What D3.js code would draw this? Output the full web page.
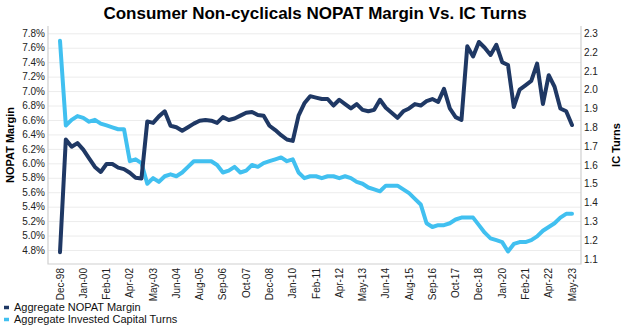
<!DOCTYPE html>
<html>
<head>
<meta charset="utf-8">
<script src="https://d3js.org/d3.v7.min.js"></script>
<style>
  body { margin: 0; background: #fff; }
  svg text { font-family: Arial, "Liberation Sans", sans-serif; }
</style>
</head>
<body>
<div id="vis-container"></div>
<script>
// Consumer Non-cyclicals: NOPAT margin (left axis) vs invested capital turns (right axis)

// every 4th point carries a date label
const tickLabels = ["Dec-98", "Jan-00", "Feb-01", "Apr-02", "May-03", "Jun-04", "Aug-05",
  "Sep-06", "Oct-07", "Dec-08", "Jan-10", "Feb-11", "Apr-12", "May-13", "Jun-14",
  "Aug-15", "Sep-16", "Oct-17", "Dec-18", "Jan-20", "Feb-21", "Apr-22", "May-23"];
const labelStep = 4;

// Aggregate NOPAT margin, %
const nopatMargin = [
  4.77, 6.33, 6.23, 6.28, 6.19, 6.07, 5.95, 5.88, 5.99, 5.99,
  5.94, 5.92, 5.87, 5.80, 5.79, 6.58, 6.56, 6.65, 6.72, 6.52,
  6.50, 6.45, 6.50, 6.55, 6.59, 6.60, 6.59, 6.56, 6.64, 6.60,
  6.62, 6.66, 6.70, 6.71, 6.67, 6.66, 6.52, 6.46, 6.39, 6.33,
  6.31, 6.66, 6.83, 6.93, 6.91, 6.89, 6.89, 6.80, 6.88, 6.82,
  6.76, 6.82, 6.74, 6.72, 6.74, 6.88, 6.77, 6.70, 6.63, 6.72,
  6.76, 6.82, 6.80, 6.86, 6.89, 6.85, 7.03, 6.76, 6.64, 6.60,
  7.62, 7.48, 7.68, 7.60, 7.50, 7.64, 7.40, 7.36, 6.78, 7.02,
  7.08, 7.14, 7.38, 6.82, 7.22, 7.06, 6.76, 6.72, 6.53
];

// Aggregate invested capital turns
const icTurns = [
  2.26, 1.81, 1.84, 1.86, 1.85, 1.83, 1.84, 1.82, 1.81, 1.80,
  1.79, 1.79, 1.62, 1.63, 1.61, 1.50, 1.53, 1.51, 1.54, 1.55,
  1.54, 1.56, 1.59, 1.62, 1.62, 1.62, 1.62, 1.60, 1.56, 1.57,
  1.59, 1.56, 1.57, 1.60, 1.59, 1.61, 1.62, 1.63, 1.64, 1.62,
  1.63, 1.56, 1.53, 1.54, 1.54, 1.53, 1.54, 1.54, 1.53, 1.54,
  1.53, 1.51, 1.50, 1.48, 1.47, 1.46, 1.49, 1.49, 1.49, 1.47,
  1.45, 1.42, 1.39, 1.29, 1.27, 1.28, 1.28, 1.29, 1.31, 1.32,
  1.32, 1.32, 1.28, 1.24, 1.21, 1.20, 1.19, 1.14, 1.18, 1.19,
  1.19, 1.20, 1.22, 1.25, 1.27, 1.29, 1.32, 1.34, 1.34
];

const leftTicks = d3.range(15, -1, -1).map(i => +(4.8 + i * 0.2).toFixed(1));
const rightTicks = d3.range(12, -1, -1).map(i => +(1.1 + i * 0.1).toFixed(1));

const seriesNames = ["Aggregate NOPAT Margin", "Aggregate Invested Capital Turns"];
const darkBlue = "#1f3864";
const lightBlue = "#41c0f0";

const width = 630, height = 333;
const plot = { left: 48, right: 581, top: 26, bottom: 264 };

const svg = d3.select("#vis-container")
  .append("svg")
  .attr("width", width)
  .attr("height", height);

const x = d3.scaleLinear().domain([0, nopatMargin.length - 1]).range([60, 572]);
const yLeft = d3.scaleLinear().domain([4.8, 7.8]).range([250, 33.3]);
const yRight = d3.scaleLinear().domain([1.1, 2.3]).range([259, 33.3]);

// title
svg.append("text")
  .attr("x", 315)
  .attr("y", 19)
  .attr("text-anchor", "middle")
  .attr("font-size", 17)
  .attr("font-weight", "bold")
  .attr("fill", "#000")
  .text("Consumer Non-cyclicals NOPAT Margin Vs. IC Turns");

// gridlines from the left axis
svg.append("g")
  .attr("transform", `translate(${plot.left},0)`)
  .call(d3.axisLeft(yLeft).tickValues(leftTicks).tickSize(-(plot.right - plot.left)).tickFormat(""))
  .call(g => g.select(".domain").remove())
  .call(g => g.selectAll(".tick line").attr("stroke", "#ececec").attr("stroke-width", 1));

// plot frame
svg.append("path")
  .attr("d", `M${plot.left},${plot.top}V${plot.bottom}H${plot.right}V${plot.top}`)
  .attr("fill", "none")
  .attr("stroke", "#d0d0d0")
  .attr("stroke-width", 1.2);

// left axis
svg.append("g")
  .attr("transform", `translate(${plot.left},0)`)
  .call(d3.axisLeft(yLeft).tickValues(leftTicks).tickSize(0).tickPadding(3)
    .tickFormat(d => d.toFixed(1) + "%"))
  .call(g => g.select(".domain").remove())
  .call(g => g.selectAll("text").attr("font-size", 10).attr("fill", "#222")
    .attr("font-family", "Arial, 'Liberation Sans', sans-serif"));

// right axis
svg.append("g")
  .attr("transform", `translate(${plot.right},0)`)
  .call(d3.axisRight(yRight).tickValues(rightTicks).tickSize(0).tickPadding(3)
    .tickFormat(d => d.toFixed(1)))
  .call(g => g.select(".domain").remove())
  .call(g => g.selectAll("text").attr("font-size", 10).attr("fill", "#222")
    .attr("font-family", "Arial, 'Liberation Sans', sans-serif"));

// axis titles
svg.append("text")
  .attr("transform", `translate(14,${(plot.top + plot.bottom) / 2}) rotate(-90)`)
  .attr("text-anchor", "middle")
  .attr("font-size", 11)
  .attr("font-weight", "bold")
  .text("NOPAT Margin");

svg.append("text")
  .attr("transform", `translate(620,${(plot.top + plot.bottom) / 2}) rotate(-90)`)
  .attr("text-anchor", "middle")
  .attr("font-size", 11)
  .attr("font-weight", "bold")
  .text("IC Turns");

// rotated date labels under the plot
svg.append("g")
  .selectAll("text")
  .data(tickLabels)
  .enter()
  .append("text")
  .attr("transform", (d, i) => `translate(${x(i * labelStep) + 3.5},${plot.bottom + 4}) rotate(-90)`)
  .attr("text-anchor", "end")
  .attr("font-size", 10)
  .attr("fill", "#222")
  .text(d => d);

const lineLeft = d3.line().x((d, i) => x(i)).y(d => yLeft(d));
const lineRight = d3.line().x((d, i) => x(i)).y(d => yRight(d));

svg.append("path")
  .datum(icTurns)
  .attr("d", lineRight)
  .attr("fill", "none")
  .attr("stroke", lightBlue)
  .attr("stroke-width", 4)
  .attr("stroke-linejoin", "round")
  .attr("stroke-linecap", "round");

svg.append("path")
  .datum(nopatMargin)
  .attr("d", lineLeft)
  .attr("fill", "none")
  .attr("stroke", darkBlue)
  .attr("stroke-width", 4)
  .attr("stroke-linejoin", "round")
  .attr("stroke-linecap", "round");

// legend
const legend = svg.append("g").attr("transform", "translate(4,311)");
[darkBlue, lightBlue].forEach((c, i) => {
  const row = legend.append("g").attr("transform", `translate(0,${i * 12})`);
  row.append("line")
    .attr("x1", 0).attr("x2", 5)
    .attr("y1", -3.5).attr("y2", -3.5)
    .attr("stroke", c)
    .attr("stroke-width", 3.5);
  row.append("text")
    .attr("x", 10)
    .attr("y", 0)
    .attr("font-size", 11)
    .attr("fill", "#111")
    .text(seriesNames[i]);
});
</script>
</body>
</html>
